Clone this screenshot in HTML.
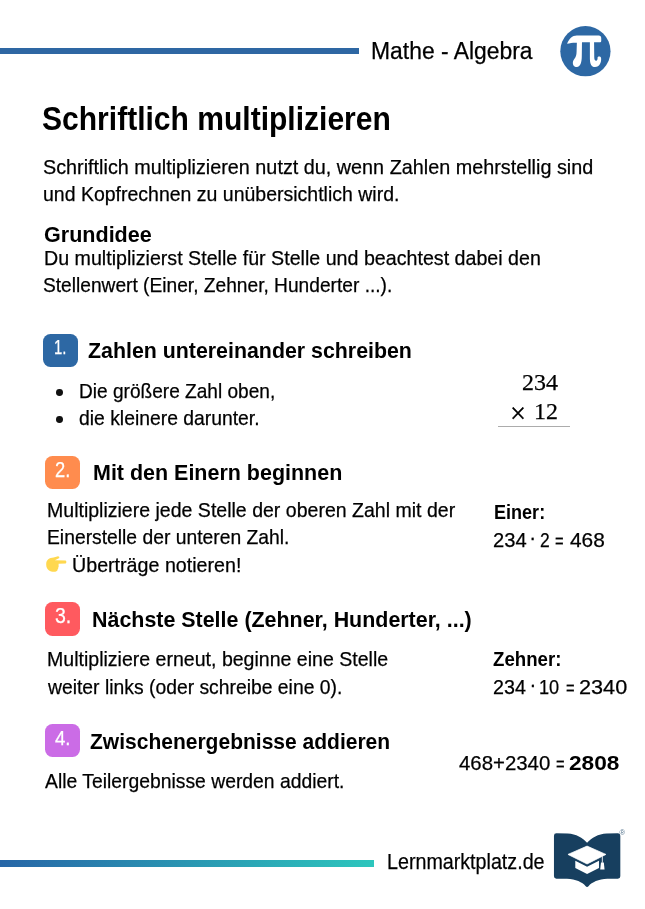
<!DOCTYPE html>
<html lang="de">
<head>
<meta charset="utf-8">
<title>Schriftlich multiplizieren</title>
<style>
html,body{margin:0;padding:0;background:#fff;}
body{width:645px;height:909px;position:relative;overflow:hidden;font-family:"Liberation Sans",sans-serif;}
.t{-webkit-text-stroke:0.25px currentColor;position:absolute;white-space:nowrap;line-height:1;transform-origin:0 0;margin:0;padding:0;}
.t b{font-weight:700;}
.bar{position:absolute;}
.badge{position:absolute;border-radius:7.5px;}
.dot{position:absolute;width:6.8px;height:6.8px;border-radius:50%;background:#111;}
svg{position:absolute;overflow:visible;}
</style>
</head>
<body>
<div class="bar" style="left:0;top:48px;width:359px;height:6px;background:#2e67a3;"></div>
<div class="bar" style="left:0;top:860px;width:374.4px;height:6.5px;background:linear-gradient(90deg,#2766a7 0%,#2dc6bd 100%);"></div>

<div class="badge" style="left:43.2px;top:333.7px;width:35.1px;height:33px;background:#2d68a4;"></div>
<div class="badge" style="left:45.1px;top:455.7px;width:34.8px;height:33.2px;background:#ff8c4e;"></div>
<div class="badge" style="left:45.1px;top:602.4px;width:34.8px;height:33.2px;background:#ff5a5f;"></div>
<div class="badge" style="left:45.1px;top:724.1px;width:34.8px;height:33.1px;background:#cb6ce6;"></div>

<div class="dot" style="left:55.9px;top:389.1px;"></div>
<div class="dot" style="left:55.9px;top:416.3px;"></div>

<div class="bar" style="left:498px;top:426.1px;width:72px;height:1.4px;background:#acacac;"></div>

<!-- pi icon -->
<svg style="left:555px;top:21px;" width="60" height="60" viewBox="0 0 645 645">
<circle cx="327" cy="325" r="270" fill="#2d68a4"/>
<path fill="#fff" d="M130 245 C150 190 185 155 235 155 L470 155 Q497 155 497 185 L497 215 Q497 228 485 228 L420 228 L422 390 C422 415 430 428 442 428 C455 428 458 410 458 392 C458 380 490 378 495 395 C502 440 480 495 430 495 C390 495 375 460 375 400 L375 228 L290 228 L288 380 C288 440 275 495 235 495 C205 495 190 470 192 445 C195 410 232 400 232 330 L235 235 C200 232 160 240 130 245 Z"/>
</svg>

<!-- logo -->
<svg style="left:549px;top:824px;" width="80" height="70" viewBox="0 0 645 564">
<path fill="#173f5f" d="M40 95 Q40 75 60 75 L150 76 C220 80 270 110 307 150 C345 110 395 80 465 76 L555 75 Q575 75 575 95 L575 422 Q575 442 555 442 L470 442 C400 445 345 470 320 500 Q307 515 294 500 C270 470 215 445 145 442 L60 442 Q40 442 40 422 Z"/>
<path fill="#fff" stroke="#fff" stroke-width="6" stroke-linejoin="round" d="M153 245 L307 178 L459 245 L307 322 Z"/>
<path fill="#fff" d="M212 297 L307 345 L403 297 L403 355 L307 403 L212 355 Z"/>
<path fill="none" stroke="#fff" stroke-width="7" d="M430 260 L430 312"/>
<path fill="#fff" d="M419 310 L442 310 L448 366 L413 366 Z"/>
<text x="591" y="86" font-family="'Liberation Sans', sans-serif" font-size="62" text-anchor="middle" fill="#56768f">®</text>
</svg>

<!-- hand -->
<svg style="left:40px;top:548px;" width="40" height="32" viewBox="0 0 645 516"><title>👉</title>
<path fill="#ffd84f" d="M100 265 C100 190 150 160 220 155 L290 133 Q318 135 312 160 L240 197 L415 203 Q440 227 415 250 L300 252 L300 290 Q305 300 295 312 Q300 330 285 342 Q285 365 265 375 C230 395 100 390 100 265 Z"/>
</svg>

<div class="t" id="hdr" style="left:371.41px;top:40.43px;font-size:23px;font-weight:400;color:#000;font-family:'Liberation Sans', sans-serif;transform:scaleX(0.9950)">Mathe - Algebra</div>
<h1 class="t" id="title" style="left:42.09px;top:102.37px;font-size:33px;font-weight:700;color:#000;font-family:'Liberation Sans', sans-serif;-webkit-text-stroke:0;transform:scaleX(0.9103)">Schriftlich multiplizieren</h1>
<p class="t" id="p1" style="left:43.04px;top:156.56px;font-size:20.6px;font-weight:400;color:#000;font-family:'Liberation Sans', sans-serif;transform:scaleX(0.9614)">Schriftlich multiplizieren nutzt du, wenn Zahlen mehrstellig sind</p>
<p class="t" id="p2" style="left:43.05px;top:183.56px;font-size:20.6px;font-weight:400;color:#000;font-family:'Liberation Sans', sans-serif;transform:scaleX(0.9463)">und Kopfrechnen zu unübersichtlich wird.</p>
<h2 class="t" id="g0" style="left:43.63px;top:223.30px;font-size:22.8px;font-weight:700;color:#000;font-family:'Liberation Sans', sans-serif;-webkit-text-stroke:0;transform:scaleX(0.9452)">Grundidee</h2>
<p class="t" id="g1" style="left:44.25px;top:247.56px;font-size:20.6px;font-weight:400;color:#000;font-family:'Liberation Sans', sans-serif;transform:scaleX(0.9540)">Du multiplizierst Stelle für Stelle und beachtest dabei den</p>
<p class="t" id="g2" style="left:43.10px;top:275.06px;font-size:20.6px;font-weight:400;color:#000;font-family:'Liberation Sans', sans-serif;transform:scaleX(0.9304)">Stellenwert (Einer, Zehner, Hunderter ...).</p>
<h2 class="t" id="h1" style="left:88.24px;top:338.70px;font-size:22.8px;font-weight:700;color:#000;font-family:'Liberation Sans', sans-serif;-webkit-text-stroke:0;transform:scaleX(0.9366)">Zahlen untereinander schreiben</h2>
<div class="t" id="b1" style="left:79.07px;top:381.16px;font-size:20.6px;font-weight:400;color:#000;font-family:'Liberation Sans', sans-serif;transform:scaleX(0.9268)">Die größere Zahl oben,</div>
<div class="t" id="b2" style="left:79.06px;top:408.16px;font-size:20.6px;font-weight:400;color:#000;font-family:'Liberation Sans', sans-serif;transform:scaleX(0.9390)">die kleinere darunter.</div>
<div class="t" id="m1" style="left:521.95px;top:372.20px;font-size:22.8px;font-weight:400;color:#000;font-family:'Liberation Serif', serif;transform:scaleX(1.0515)">234</div>
<div class="t" id="m2x" style="left:510.33px;top:398.27px;font-size:30px;font-weight:400;color:#000;font-family:'Liberation Serif', serif;transform:scaleX(0.9463)">×</div>
<div class="t" id="m2" style="left:533.71px;top:401.20px;font-size:22.8px;font-weight:400;color:#000;font-family:'Liberation Serif', serif;transform:scaleX(1.0500)">12</div>
<h2 class="t" id="h2" style="left:93.27px;top:461.40px;font-size:22.8px;font-weight:700;color:#000;font-family:'Liberation Sans', sans-serif;-webkit-text-stroke:0;transform:scaleX(0.9416)">Mit den Einern beginnen</h2>
<p class="t" id="s2a" style="left:46.87px;top:500.16px;font-size:20.6px;font-weight:400;color:#000;font-family:'Liberation Sans', sans-serif;transform:scaleX(0.9483)">Multipliziere jede Stelle der oberen Zahl mit der</p>
<p class="t" id="s2b" style="left:47.06px;top:526.66px;font-size:20.6px;font-weight:400;color:#000;font-family:'Liberation Sans', sans-serif;transform:scaleX(0.9371)">Einerstelle der unteren Zahl.</p>
<p class="t" id="s2c" style="left:72.28px;top:555.26px;font-size:20.6px;font-weight:400;color:#000;font-family:'Liberation Sans', sans-serif;transform:scaleX(0.9546)">Überträge notieren!</p>
<div class="t" id="e1" style="left:493.73px;top:503.41px;font-size:19.6px;font-weight:700;color:#000;font-family:'Liberation Sans', sans-serif;-webkit-text-stroke:0;transform:scaleX(0.9213)">Einer:</div>
<div class="t" id="e2a" style="left:492.99px;top:529.55px;font-size:20.5px;font-weight:400;color:#000;font-family:'Liberation Sans', sans-serif;transform:scaleX(0.9823)">234</div>
<div class="t" id="e2b" style="left:529.35px;top:526.85px;font-size:20.5px;font-weight:400;color:#000;font-family:'Liberation Sans', sans-serif;/*fixsx*/transform:scaleX(1.0000)">·</div>
<div class="t" id="e2c" style="left:539.66px;top:529.55px;font-size:20.5px;font-weight:400;color:#000;font-family:'Liberation Sans', sans-serif;transform:scaleX(0.8530)">2</div>
<div class="t" id="e2d" style="left:555.25px;top:530.85px;font-size:20.5px;font-weight:400;color:#000;font-family:'Liberation Sans', sans-serif;/*fixsx*/transform:scaleX(0.7200)">=</div>
<div class="t" id="e2e" style="left:569.78px;top:529.55px;font-size:20.5px;font-weight:400;color:#000;font-family:'Liberation Sans', sans-serif;transform:scaleX(1.0186)">468</div>
<h2 class="t" id="h3" style="left:92.27px;top:607.60px;font-size:22.8px;font-weight:700;color:#000;font-family:'Liberation Sans', sans-serif;-webkit-text-stroke:0;transform:scaleX(0.9396)">Nächste Stelle (Zehner, Hunderter, ...)</h2>
<p class="t" id="s3a" style="left:46.68px;top:648.56px;font-size:20.6px;font-weight:400;color:#000;font-family:'Liberation Sans', sans-serif;transform:scaleX(0.9490)">Multipliziere erneut, beginne eine Stelle</p>
<p class="t" id="s3b" style="left:47.58px;top:677.16px;font-size:20.6px;font-weight:400;color:#000;font-family:'Liberation Sans', sans-serif;transform:scaleX(0.9385)">weiter links (oder schreibe eine 0).</p>
<div class="t" id="z1" style="left:493.19px;top:650.21px;font-size:19.6px;font-weight:700;color:#000;font-family:'Liberation Sans', sans-serif;-webkit-text-stroke:0;transform:scaleX(0.9518)">Zehner:</div>
<div class="t" id="z2a" style="left:493.02px;top:677.25px;font-size:20.5px;font-weight:400;color:#000;font-family:'Liberation Sans', sans-serif;transform:scaleX(0.9606)">234</div>
<div class="t" id="z2b" style="left:529.45px;top:673.65px;font-size:20.5px;font-weight:400;color:#000;font-family:'Liberation Sans', sans-serif;/*fixsx*/transform:scaleX(1.0000)">·</div>
<div class="t" id="z2c" style="left:538.57px;top:677.25px;font-size:20.5px;font-weight:400;color:#000;font-family:'Liberation Sans', sans-serif;transform:scaleX(0.8860)">10</div>
<div class="t" id="z2d" style="left:566.15px;top:677.65px;font-size:20.5px;font-weight:400;color:#000;font-family:'Liberation Sans', sans-serif;/*fixsx*/transform:scaleX(0.7200)">=</div>
<div class="t" id="z2e" style="left:578.54px;top:677.25px;font-size:20.5px;font-weight:400;color:#000;font-family:'Liberation Sans', sans-serif;transform:scaleX(1.0569)">2340</div>
<h2 class="t" id="h4" style="left:90.47px;top:729.60px;font-size:22.8px;font-weight:700;color:#000;font-family:'Liberation Sans', sans-serif;-webkit-text-stroke:0;transform:scaleX(0.9217)">Zwischenergebnisse addieren</h2>
<p class="t" id="s4" style="left:44.79px;top:770.56px;font-size:20.6px;font-weight:400;color:#000;font-family:'Liberation Sans', sans-serif;transform:scaleX(0.9387)">Alle Teilergebnisse werden addiert.</p>
<div class="t" id="r4a" style="left:458.79px;top:753.25px;font-size:20.5px;font-weight:400;color:#000;font-family:'Liberation Sans', sans-serif;transform:scaleX(0.9947)">468+2340</div>
<div class="t" id="r4b" style="left:556.35px;top:753.65px;font-size:20.5px;font-weight:400;color:#000;font-family:'Liberation Sans', sans-serif;/*fixsx*/transform:scaleX(0.7200)">=</div>
<div class="t" id="r4c" style="left:568.71px;top:753.25px;font-size:20.5px;font-weight:700;color:#000;font-family:'Liberation Sans', sans-serif;-webkit-text-stroke:0;transform:scaleX(1.1046)">2808</div>
<div class="t" id="ft" style="left:387.15px;top:850.85px;font-size:21.8px;font-weight:400;color:#000;font-family:'Liberation Sans', sans-serif;transform:scaleX(0.9029)">Lernmarktplatz.de</div>
<div class="t" id="n1" style="left:54.00px;top:336.97px;font-size:20px;font-weight:400;color:#fff;font-family:'Liberation Sans', sans-serif;transform:scaleX(0.7464)">1.</div>
<div class="t" id="n2" style="left:55.13px;top:459.25px;font-size:21.2px;font-weight:400;color:#fff;font-family:'Liberation Sans', sans-serif;transform:scaleX(0.8667)">2.</div>
<div class="t" id="n3" style="left:54.63px;top:605.45px;font-size:21.2px;font-weight:400;color:#fff;font-family:'Liberation Sans', sans-serif;transform:scaleX(0.9214)">3.</div>
<div class="t" id="n4" style="left:55.39px;top:728.05px;font-size:20.5px;font-weight:400;color:#fff;font-family:'Liberation Sans', sans-serif;transform:scaleX(0.9090)">4.</div>
</body>
</html>
